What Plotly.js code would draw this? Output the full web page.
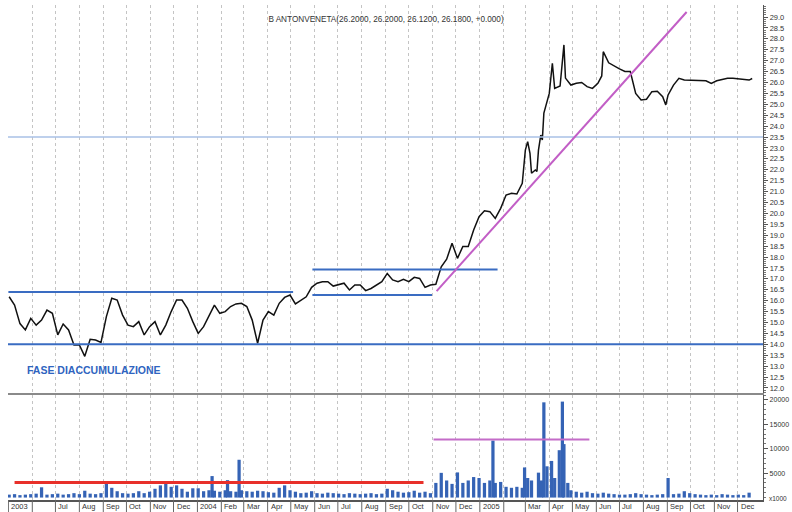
<!DOCTYPE html>
<html>
<head>
<meta charset="utf-8">
<script src="https://cdn.plot.ly/plotly-3.0.1.min.js"></script>
<style>
html,body{margin:0;padding:0;background:#fff;}
#chart{width:792px;height:512px;}
</style>
</head>
<body>
<div id="chart"></div>
<script>
// ---------------- DATA ----------------
const chartTitle = "B ANTONVENETA(26.2000, 26.2000, 26.1200, 26.1800, +0.000)";
const noteText = "FASE DIACCUMULAZIONE";

const priceDates = [
"2003-05-02","2003-05-09","2003-05-16","2003-05-23","2003-05-30","2003-06-06","2003-06-13","2003-06-20","2003-06-27",
"2003-07-04","2003-07-11","2003-07-18","2003-07-25","2003-08-01","2003-08-08","2003-08-15","2003-08-22","2003-08-29",
"2003-09-05","2003-09-12","2003-09-19","2003-09-26","2003-10-03","2003-10-10","2003-10-17","2003-10-24","2003-10-31",
"2003-11-07","2003-11-14","2003-11-21","2003-11-28","2003-12-05","2003-12-12","2003-12-19","2003-12-26",
"2004-01-02","2004-01-09","2004-01-16","2004-01-23","2004-01-30","2004-02-06","2004-02-13","2004-02-20","2004-02-27",
"2004-03-05","2004-03-12","2004-03-19","2004-03-26","2004-04-02","2004-04-09","2004-04-16","2004-04-23","2004-04-30",
"2004-05-07","2004-05-14","2004-05-21","2004-05-28","2004-06-04","2004-06-11","2004-06-18","2004-06-25",
"2004-07-02","2004-07-09","2004-07-16","2004-07-23","2004-07-30","2004-08-06","2004-08-13","2004-08-20","2004-08-27",
"2004-09-03","2004-09-10","2004-09-17","2004-09-24","2004-10-01","2004-10-08","2004-10-15","2004-10-22","2004-10-29",
"2004-11-05","2004-11-12","2004-11-19","2004-11-26","2004-12-03","2004-12-10","2004-12-17","2004-12-24","2004-12-31",
"2005-01-07","2005-01-14","2005-01-21","2005-01-28","2005-02-04","2005-02-11","2005-02-18","2005-02-25",
"2005-03-01","2005-03-04","2005-03-07","2005-03-09","2005-03-14","2005-03-16","2005-03-18","2005-03-21","2005-03-23",
"2005-03-25","2005-04-01","2005-04-05","2005-04-08","2005-04-15","2005-04-20","2005-04-22","2005-04-29",
"2005-05-06","2005-05-13","2005-05-20","2005-05-27","2005-06-03","2005-06-08","2005-06-10","2005-06-17","2005-06-24",
"2005-07-01","2005-07-08","2005-07-15","2005-07-22","2005-07-29","2005-08-05","2005-08-12","2005-08-19","2005-08-26","2005-08-30",
"2005-09-02","2005-09-09","2005-09-16","2005-09-23","2005-09-30","2005-10-07","2005-10-14","2005-10-21","2005-10-28",
"2005-11-04","2005-11-11","2005-11-18","2005-11-25","2005-12-02","2005-12-09","2005-12-16","2005-12-20"
];
const priceValues = [
16.18,15.80,14.95,14.66,15.19,14.88,15.11,15.57,15.42,
14.43,14.93,14.66,13.97,13.97,13.45,14.23,14.20,14.09,
15.27,16.11,16.03,15.34,14.88,14.81,15.04,14.43,14.81,
15.04,14.43,14.88,15.50,16.03,16.03,15.65,15.04,
14.50,14.81,15.34,15.80,15.42,15.50,15.73,15.85,15.88,
15.73,15.11,14.05,15.11,15.50,15.34,15.88,16.15,16.26,
15.85,16.03,16.18,16.61,16.80,16.87,16.87,16.67,
16.72,16.80,16.49,16.72,16.72,16.46,16.56,16.72,16.87,
17.25,16.95,16.87,16.98,16.87,17.07,17.02,16.61,16.72,
16.75,17.55,17.90,18.63,17.94,18.48,18.48,19.24,19.85,
20.12,20.08,19.77,20.23,20.84,20.92,20.89,21.38,
22.90,23.29,22.75,21.84,21.99,21.92,22.90,23.59,23.36,
24.60,25.50,26.88,25.73,25.84,27.72,26.20,25.88,
25.96,26.00,25.81,25.73,25.96,26.30,27.41,26.90,26.75,
26.62,26.50,26.50,25.50,25.20,25.23,25.58,25.60,25.35,24.97,
25.43,25.88,26.19,26.11,26.11,26.11,26.11,26.08,25.96,
26.08,26.14,26.19,26.19,26.16,26.14,26.11,26.18
];

const volDates = [
"2003-05-02","2003-05-09","2003-05-16","2003-05-23","2003-05-30","2003-06-06","2003-06-13","2003-06-20","2003-06-27",
"2003-07-04","2003-07-11","2003-07-18","2003-07-25","2003-08-01","2003-08-08","2003-08-15","2003-08-22","2003-08-29",
"2003-09-05","2003-09-12","2003-09-19","2003-09-26","2003-10-03","2003-10-10","2003-10-17","2003-10-24","2003-10-31",
"2003-11-07","2003-11-14","2003-11-21","2003-11-28","2003-12-05","2003-12-12","2003-12-19","2003-12-26",
"2004-01-02","2004-01-09","2004-01-16","2004-01-20","2004-01-23","2004-01-30","2004-02-06","2004-02-09","2004-02-13","2004-02-20","2004-02-24","2004-02-27",
"2004-03-05","2004-03-12","2004-03-19","2004-03-26","2004-04-02","2004-04-09","2004-04-16","2004-04-23","2004-04-30",
"2004-05-07","2004-05-14","2004-05-21","2004-05-28","2004-06-04","2004-06-11","2004-06-18","2004-06-25",
"2004-07-02","2004-07-09","2004-07-16","2004-07-23","2004-07-30","2004-08-06","2004-08-13","2004-08-20","2004-08-27",
"2004-09-03","2004-09-10","2004-09-17","2004-09-24","2004-10-01","2004-10-08","2004-10-15","2004-10-22","2004-10-29",
"2004-11-05","2004-11-12","2004-11-19","2004-11-26","2004-12-03","2004-12-10","2004-12-17","2004-12-24","2004-12-31",
"2005-01-07","2005-01-14","2005-01-18","2005-01-21","2005-01-28","2005-02-04","2005-02-11","2005-02-18","2005-02-25","2005-02-28",
"2005-03-04","2005-03-09","2005-03-18","2005-03-22","2005-03-25","2005-03-29","2005-04-04","2005-04-08","2005-04-14","2005-04-18","2005-04-20","2005-04-25","2005-04-29",
"2005-05-06","2005-05-13","2005-05-20","2005-05-27","2005-06-03","2005-06-10","2005-06-17","2005-06-24",
"2005-07-01","2005-07-08","2005-07-15","2005-07-22","2005-07-29","2005-08-05","2005-08-12","2005-08-19","2005-08-26",
"2005-09-02","2005-09-09","2005-09-16","2005-09-23","2005-09-30","2005-10-07","2005-10-14","2005-10-21","2005-10-28",
"2005-11-04","2005-11-11","2005-11-18","2005-11-25","2005-12-02","2005-12-09","2005-12-16"
];
const volValues = [
600,700,500,600,700,800,2100,600,700,
800,600,700,900,700,1400,800,700,900,
2800,2000,1300,900,800,900,1300,900,1200,
1800,2500,2800,2200,2500,1800,1200,1900,
1900,1300,1500,4400,1400,1200,1500,3570,1300,1200,7740,1500,
1300,1200,1400,1300,1100,1000,2000,2500,1500,
1200,900,1000,1300,900,800,1000,900,
800,700,900,800,700,800,900,700,800,
1800,1500,1200,1000,1100,1400,1000,1200,900,
3000,5060,3500,2800,5150,3000,3500,4200,4000,
3000,3500,11670,3000,3200,2200,2000,2200,2000,6170,
4000,3500,5100,3500,19500,6400,7500,4000,9700,19650,10950,3000,1500,
1200,1000,1200,900,800,1000,800,700,
600,600,700,900,700,600,500,600,700,
4000,700,800,1300,900,700,600,500,600,
500,700,600,500,600,500,1000
];

const monthStarts = [
"2003-05-01","2003-06-01","2003-07-01","2003-08-01","2003-09-01","2003-10-01","2003-11-01","2003-12-01",
"2004-01-01","2004-02-01","2004-03-01","2004-04-01","2004-05-01","2004-06-01","2004-07-01","2004-08-01",
"2004-09-01","2004-10-01","2004-11-01","2004-12-01","2005-01-01","2005-02-01","2005-03-01","2005-04-01",
"2005-05-01","2005-06-01","2005-07-01","2005-08-01","2005-09-01","2005-10-01","2005-11-01","2005-12-01"
];
const monthLabels = [
"2003","","Jul","Aug","Sep","Oct","Nov","Dec",
"2004","Feb","Mar","Apr","May","Jun","Jul","Aug",
"Sep","Oct","Nov","Dec","2005","","Mar","Apr",
"May","Jun","Jul","Aug","Sep","Oct","Nov","Dec"
];
const priceTicks = [12,12.5,13,13.5,14,14.5,15,15.5,16,16.5,17,17.5,18,18.5,19,19.5,20,20.5,21,21.5,22,22.5,23,23.5,24,24.5,25,25.5,26,26.5,27,27.5,28,28.5,29];
const volTicks = [5000,10000,15000,20000];

// analysis lines (levels and endpoints)
const supportLevel = 14.0;
const resistanceLevel = 23.5;
const range1 = {start:"2003-05-01", end:"2004-05-04", top:16.40};
const range2 = {start:"2004-05-29", endTop:"2005-01-24", endBottom:"2004-10-31", top:17.43, bottom:16.26};
const trendLine = {x0:"2004-11-06", y0:16.44, x1:"2005-09-26", y1:29.23};
const volAvg1 = {x0:"2003-05-09", x1:"2004-10-20", level:3100};
const volAvg2 = {x0:"2004-11-02", x1:"2005-05-23", level:11900};

// ---------------- CHART ----------------
const font = "Liberation Sans, Arial, sans-serif";
const dayMs = 86400000;

const traces = [
  {
    type: "bar", x: volDates, y: volValues, xaxis: "x", yaxis: "y",
    marker: {color: "#3563b5", line: {width: 0}},
    width: 4.2 * dayMs, hoverinfo: "skip"
  },
  {
    type: "scatter", mode: "lines", x: priceDates, y: priceValues, xaxis: "x2", yaxis: "y2",
    line: {color: "#111", width: 1.5}, hoverinfo: "skip"
  }
];

const blue = "#3a6cc2";
const shapes = [
  {type:"line", xref:"x2 domain", yref:"y2", x0:0, x1:1, y0:supportLevel, y1:supportLevel, line:{color:blue, width:2}},
  {type:"line", xref:"x2 domain", yref:"y2", x0:0, x1:1, y0:resistanceLevel, y1:resistanceLevel, line:{color:"#a9c1e6", width:1.5}},
  {type:"line", xref:"x2", yref:"y2", x0:range1.start, x1:range1.end, y0:range1.top, y1:range1.top, line:{color:blue, width:2}},
  {type:"line", xref:"x2", yref:"y2", x0:range2.start, x1:range2.endTop, y0:range2.top, y1:range2.top, line:{color:blue, width:2}},
  {type:"line", xref:"x2", yref:"y2", x0:range2.start, x1:range2.endBottom, y0:range2.bottom, y1:range2.bottom, line:{color:blue, width:2}},
  {type:"line", xref:"x2", yref:"y2", x0:trendLine.x0, x1:trendLine.x1, y0:trendLine.y0, y1:trendLine.y1, line:{color:"#c25ec6", width:2}},
  {type:"line", xref:"x", yref:"y", x0:volAvg1.x0, x1:volAvg1.x1, y0:volAvg1.level, y1:volAvg1.level, line:{color:"#e8302a", width:3}},
  {type:"line", xref:"x", yref:"y", x0:volAvg2.x0, x1:volAvg2.x1, y0:volAvg2.level, y1:volAvg2.level, line:{color:"#c46cc8", width:2}}
];
// month divider ticks under the time axis
monthStarts.forEach(function(d){
  shapes.push({type:"line", xref:"x", yref:"paper", x0:d, x1:d, y0:0, y1:-12/495, line:{color:"#666", width:1}});
});

const annotations = [
  {text: noteText, xref:"paper", yref:"paper", x: 17/755, y: (500-370)/495, xanchor:"left", yanchor:"middle",
   showarrow:false, font:{family:font, size:10.5, color:"#2f64c0", weight:"bold"}},
  {text: "x1000", xref:"paper", yref:"paper", x: 1, y: (500-498)/495, xanchor:"left", yanchor:"middle", xshift:4,
   showarrow:false, font:{family:font, size:6.5, color:"#333"}}
];
// month labels, left-aligned right after each divider
monthStarts.forEach(function(d, i){
  if (monthLabels[i] === "") return;
  annotations.push({text: monthLabels[i], xref:"x", yref:"paper", x:d, y:(500-506)/495,
    xanchor:"left", yanchor:"middle", xshift:1, showarrow:false,
    font:{family:font, size:7.5, color:"#333"}});
});

const gridStyle = {showgrid:true, gridcolor:"#c4c4c4", griddash:"dot", gridwidth:1};

const layout = {
  width: 792, height: 512,
  margin: {l:8, r:29, t:5, b:12},
  paper_bgcolor: "#fff", plot_bgcolor: "#fff",
  showlegend: false,
  font: {family: font, size: 7, color: "#333"},
  title: {text: chartTitle, font:{family:font, size:8.2, color:"#333"}, x: 386/792, xanchor:"center", y: 1 - 19/512, yanchor:"middle"},
  xaxis: Object.assign({
    domain:[0,1], anchor:"y", type:"date",
    range:["2003-04-30 12:00","2006-01-03"],
    tickmode:"array", tickvals: monthStarts, showticklabels:false, ticks:"",
    showline:true, linecolor:"#555", linewidth:1.5, zeroline:false
  }, gridStyle),
  xaxis2: Object.assign({
    domain:[0,1], anchor:"y2", type:"date", matches:"x",
    tickmode:"array", tickvals: monthStarts, showticklabels:false, ticks:"",
    showline:true, linecolor:"#8a8a8a", linewidth:2, zeroline:false
  }, gridStyle),
  yaxis: {
    domain:[0, 0.2121], anchor:"x", side:"right", range:[-500, 21000],
    tickmode:"array", tickvals: volTicks, tickformat:"d",
    ticks:"outside", ticklen:4, tickcolor:"#555",
    minor:{tickmode:"linear", tick0:0, dtick:1000, ticks:"outside", ticklen:2, tickcolor:"#777", showgrid:false},
    showgrid:false, zeroline:false, showline:true, linecolor:"#555", linewidth:1.2,
    tickfont:{family:font, size:7, color:"#333"}
  },
  yaxis2: {
    domain:[0.2162, 1], anchor:"x2", side:"right", range:[11.77, 29.55],
    tickmode:"array", tickvals: priceTicks, tickformat:".1f",
    ticks:"outside", ticklen:4, tickcolor:"#555",
    minor:{tickmode:"linear", tick0:12, dtick:0.1, ticks:"outside", ticklen:2, tickcolor:"#777", showgrid:false},
    showgrid:false, zeroline:false, showline:true, linecolor:"#555", linewidth:1.2,
    tickfont:{family:font, size:7.5, color:"#333"}
  },
  shapes: shapes,
  annotations: annotations
};

Plotly.newPlot("chart", traces, layout, {staticPlot:true, displayModeBar:false});
</script>
</body>
</html>
